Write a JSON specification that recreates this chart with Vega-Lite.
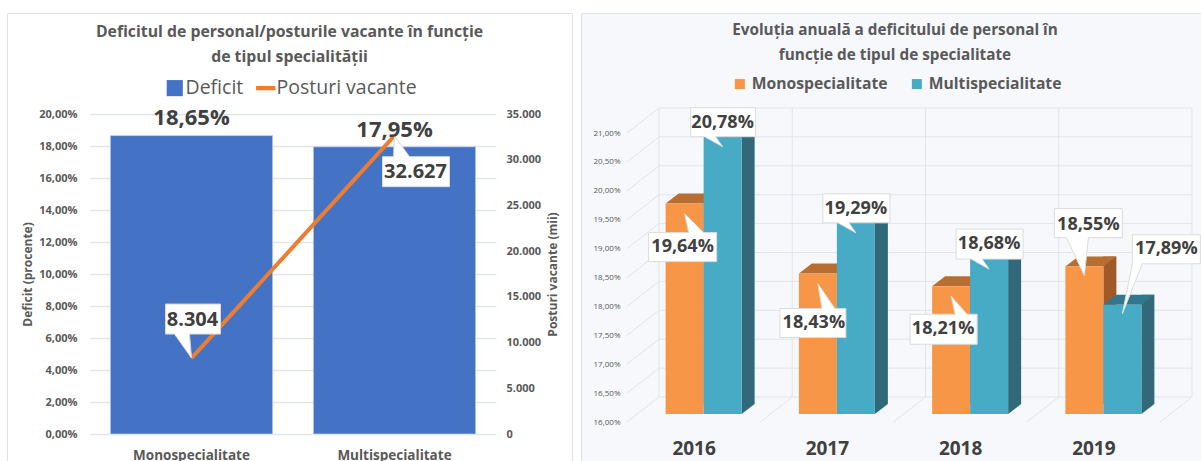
{
"$schema":"https://vega.github.io/schema/vega-lite/v6.json",
"background":"white",
"padding":{"left":6,"top":12,"right":0,"bottom":0},
"spacing":7,
"resolve":{"scale":{"color":"independent","shape":"independent"},"legend":{"color":"independent","shape":"independent"}},
"config":{"view":{"fill":"#f6f8fc","stroke":"#dfe2e8"},"font":"Open Sans"},
"datasets":{
"left":[{"cat":"Monospecialitate","deficit":18.65,"deficitLabel":"18,65%","vacant":8304,"vacantLabel":"8.304"},{"cat":"Multispecialitate","deficit":17.95,"deficitLabel":"17,95%","vacant":32627,"vacantLabel":"32.627"}],
"leftLegend":[{"series":"Deficit"},{"series":"Posturi vacante"}],
"right":[
{"year":2016,"series":"Monospecialitate","value":19.64,"label":"19,64%"},{"year":2016,"series":"Multispecialitate","value":20.78,"label":"20,78%"},
{"year":2017,"series":"Monospecialitate","value":18.43,"label":"18,43%"},{"year":2017,"series":"Multispecialitate","value":19.29,"label":"19,29%"},
{"year":2018,"series":"Monospecialitate","value":18.21,"label":"18,21%"},{"year":2018,"series":"Multispecialitate","value":18.68,"label":"18,68%"},
{"year":2019,"series":"Monospecialitate","value":18.55,"label":"18,55%"},{"year":2019,"series":"Multispecialitate","value":17.89,"label":"17,89%"}],
"ticks":[{"v":16},{"v":16.5},{"v":17},{"v":17.5},{"v":18},{"v":18.5},{"v":19},{"v":19.5},{"v":20},{"v":20.5},{"v":21}],
"edges":[{"e":2015.5},{"e":2016.5},{"e":2017.5},{"e":2018.5},{"e":2019.5}]
},
"hconcat":[
{"width":565,"height":448,
"title":{"text":["Deficitul de personal/posturile vacante în funcție","de tipul specialității"],"anchor":"middle","frame":"group","offset":-53,"fontSize":15.8,"fontWeight":"bold","color":"#595959","lineHeight":25},
"resolve":{"scale":{"y":"independent"}},
"layer":[
{"data":{"name":"left"},
"encoding":{"x":{"field":"cat","type":"nominal","sort":null,"scale":{"range":[83,489],"paddingInner":0.2,"paddingOuter":0.1},"axis":{"title":null,"domain":false,"ticks":false,"labelAngle":0,"labelFontSize":13.5,"labelFontWeight":"bold","labelColor":"#595959","offset":-13,"labelPadding":0}},
"y":{"type":"quantitative","field":"deficit","scale":{"domain":[0,20],"range":[421,101],"nice":false},"axis":{"title":"Deficit (procente)","orient":"left","offset":-70,"values":[0,2,4,6,8,10,12,14,16,18,20],"labelExpr":"replace(format(datum.value,'.2f'),'.',',')+'%'","domain":false,"ticks":false,"labelPadding":0,"labelFontSize":11,"labelFontWeight":"bold","labelColor":"#595959","titleFontSize":12,"titleFontWeight":"bold","titleColor":"#595959","titlePadding":4,"grid":true,"gridColor":"#e2e5ec","gridWidth":1.3}}},
"layer":[
{"mark":{"type":"bar","fill":"#4472c4","stroke":"#dbe4f4","strokeWidth":0.6}},
{"mark":{"type":"text","dy":-18,"fontSize":22,"fontWeight":"bold","fill":"#404040"},"encoding":{"text":{"field":"deficitLabel"},"y":{"field":"deficit","type":"quantitative"}},"transform":[{"filter":"datum.cat=='Monospecialitate'"}]}
]},
{"data":{"name":"left"},
"encoding":{"x":{"field":"cat","type":"nominal","sort":null},
"y":{"type":"quantitative","field":"vacant","scale":{"domain":[0,35000],"range":[421,101],"nice":false},"axis":{"title":"Posturi vacante (mii)","orient":"right","offset":-66,"values":[0,5000,10000,15000,20000,25000,30000,35000],"labelExpr":"replace(format(datum.value,','),',','.')","domain":false,"ticks":false,"labelPadding":0,"labelFontSize":11,"labelFontWeight":"bold","labelColor":"#595959","titleFontSize":12,"titleFontWeight":"bold","titleColor":"#595959","titleAngle":270,"titlePadding":19,"grid":false}}},
"layer":[
{"mark":{"type":"line","stroke":"#ed7d31","strokeWidth":4}},
{"transform":[{"filter":"datum.cat=='Monospecialitate'"}],"mark":{"type":"point","filled":true,"opacity":1,"fill":"white","stroke":"#d9d9d9","strokeWidth":1,"size":4,"shape":"M-26 -54 H29 V-24 H-2 L0 0 L-17 -24 H-26 Z"}},
{"transform":[{"filter":"datum.cat=='Multispecialitate'"}],"mark":{"type":"point","filled":true,"opacity":1,"fill":"white","stroke":"#d9d9d9","strokeWidth":1,"size":4,"shape":"M0 0 L15 21 H55 V51 H-12 V21 H-1 Z"}},
{"mark":{"type":"text","dx":1,"dy":-38,"fontSize":20,"fontWeight":"bold","fill":"#404040"},"encoding":{"text":{"field":"vacantLabel"}},"transform":[{"filter":"datum.cat=='Monospecialitate'"}]},
{"mark":{"type":"text","dx":21,"dy":36,"fontSize":20,"fontWeight":"bold","fill":"#404040"},"encoding":{"text":{"field":"vacantLabel"}},"transform":[{"filter":"datum.cat=='Multispecialitate'"}]},
{"mark":{"type":"text","dy":-6,"fontSize":22,"fontWeight":"bold","fill":"#404040"},"encoding":{"text":{"field":"deficitLabel"}},"transform":[{"filter":"datum.cat=='Multispecialitate'"}]}
]},
{"data":{"name":"leftLegend"},"mark":{"type":"point","filled":true,"opacity":0},
"encoding":{
"color":{"field":"series","type":"nominal","scale":{"domain":["Deficit","Posturi vacante"],"range":["#4472c4","#ed7d31"]},"legend":{"title":null,"orient":"none","legendX":158,"legendY":65,"direction":"horizontal","symbolOpacity":1,"symbolStrokeWidth":0,"symbolSize":260,"labelFontSize":19.5,"labelColor":"#595959","columnPadding":12,"labelOffset":1}},
"shape":{"field":"series","type":"nominal","scale":{"domain":["Deficit","Posturi vacante"],"range":["square","M-1.2 -0.27 H1.2 V0.27 H-1.2 Z"]},"legend":{"title":null,"orient":"none","legendX":158,"legendY":65,"direction":"horizontal","symbolOpacity":1,"symbolStrokeWidth":0,"symbolSize":260,"labelFontSize":19.5,"labelColor":"#595959","columnPadding":12,"labelOffset":1}}}}
]},
{"width":620,"height":448,
"title":{"text":["Evoluția anuală a deficitului de personal în","funcție de tipul de specialitate"],"anchor":"middle","frame":"group","offset":-50,"dx":4,"fontSize":15.3,"fontWeight":"bold","color":"#595959","lineHeight":25},
"layer":[
{"data":{"name":"ticks"},"mark":{"type":"rule","stroke":"#e2e5ec","strokeWidth":1,"xOffset":22,"x2Offset":22,"yOffset":-17},
"encoding":{"y":{"field":"v","type":"quantitative","scale":{"domain":[16,21],"range":[401,112],"nice":false},"axis":{"title":null,"orient":"left","offset":-39,"values":[16,16.5,17,17.5,18,18.5,19,19.5,20,20.5,21],"labelExpr":"replace(format(datum.value,'.2f'),'.',',')+'%'","labelOffset":8,"domain":false,"ticks":false,"grid":false,"labelPadding":0,"labelFontSize":8,"labelColor":"#595959"}},
"x":{"datum":2015.5,"type":"quantitative","scale":{"domain":[2015.5,2019.5],"range":[56,589],"nice":false,"zero":false,"padding":0},"axis":{"title":null,"values":[2016,2017,2018,2019],"format":"d","labelOffset":-10,"domain":false,"ticks":false,"grid":false,"offset":-22,"labelPadding":0,"labelFontSize":19,"labelFontWeight":"bold","labelColor":"#404040","labelFlush":false}},
"x2":{"datum":2019.5}}},
{"data":{"name":"ticks"},"mark":{"type":"rule","stroke":"#e2e5ec","strokeWidth":1,"xOffset":-10,"x2Offset":22,"yOffset":8,"y2Offset":-17},
"encoding":{"y":{"field":"v","type":"quantitative"},"y2":{"field":"v"},"x":{"datum":2015.5,"type":"quantitative"},"x2":{"datum":2015.5}}},
{"data":{"name":"edges"},"mark":{"type":"rule","stroke":"#e2e5ec","strokeWidth":1,"xOffset":22,"x2Offset":22,"yOffset":-17,"y2Offset":-17},
"encoding":{"x":{"field":"e","type":"quantitative"},"y":{"datum":16,"type":"quantitative"},"y2":{"datum":21}}},
{"data":{"name":"edges"},"transform":[{"filter":"datum.e>2016"}],"mark":{"type":"rule","stroke":"#e2e5ec","strokeWidth":1,"xOffset":-10,"x2Offset":22,"yOffset":8,"y2Offset":-17},
"encoding":{"x":{"field":"e","type":"quantitative"},"x2":{"field":"e"},"y":{"datum":16,"type":"quantitative"},"y2":{"datum":16}}},
{"data":{"name":"right"},
"encoding":{"x":{"field":"year","type":"quantitative"},"y":{"field":"value","type":"quantitative"}},
"layer":[
{"transform":[{"filter":"datum.series=='Monospecialitate'"}],"mark":{"type":"bar","width":13,"fill":"#a05a28","xOffset":6.5,"yOffset":-10,"y2Offset":-10},"encoding":{"y2":{"datum":16}}},
{"transform":[{"filter":"datum.series=='Monospecialitate'"}],"mark":{"type":"point","filled":true,"opacity":1,"fill":"#b86e30","size":4,"shape":"M-38 0 L-25 -10 L13 -10 L0 0 Z"}},
{"transform":[{"filter":"datum.series=='Multispecialitate'"}],"mark":{"type":"bar","width":13,"fill":"#31697a","xOffset":44.5,"yOffset":-10,"y2Offset":-10},"encoding":{"y2":{"datum":16}}},
{"transform":[{"filter":"datum.series=='Multispecialitate'"}],"mark":{"type":"point","filled":true,"opacity":1,"fill":"#31788c","size":4,"shape":"M0 0 L13 -10 L51 -10 L38 0 Z"}},
{"transform":[{"filter":"datum.series=='Multispecialitate'"}],"mark":{"type":"point","filled":true,"opacity":1,"fill":"#31697a","size":4,"shape":"M38 0 L38 -10 L51 -10 Z"},"encoding":{"y":{"datum":16,"type":"quantitative"}}},
{"transform":[{"filter":"datum.series=='Monospecialitate'"}],"mark":{"type":"bar","width":38,"fill":"#f79646","xOffset":-19},"encoding":{"y2":{"datum":16}}},
{"transform":[{"filter":"datum.series=='Multispecialitate'"}],"mark":{"type":"bar","width":38,"fill":"#48abc6","xOffset":19},"encoding":{"y2":{"datum":16}}},
{"transform":[{"filter":"datum.series=='Monospecialitate'"}],"mark":{"type":"point","filled":true,"opacity":1,"fill":"white","stroke":"#dcdcdc","strokeWidth":1,"size":4,"xOffset":-19},
"encoding":{"shape":{"field":"label","type":"nominal","legend":null,"scale":{"domain":["19,64%","18,43%","18,21%","18,55%","20,78%","19,29%","18,68%","17,89%"],"range":["M0 10 L19 29 H32 V58 H-36 V29 H4 Z","M0 10 L17 35 H28 V64 H-38 V35 H4 Z","M0 10 L16 28 H26 V58 H-41 V28 H4 Z","M0 9 L4 -29 H38 V-58 H-30 V-29 H-18 Z","M-32 -30 H33 V-1 H-7 L0 9 L-18 -1 H-32 Z","M-33 -30 H34 V-1 H-7 L0 9 L-18 -1 H-33 Z","M-33 -30 H34 V0 H-7 L0 10 L-18 0 H-33 Z","M0 9 L20 -41 H78 V-70 H10 V-41 Z"]}}}},
{"transform":[{"filter":"datum.series=='Multispecialitate'"}],"mark":{"type":"point","filled":true,"opacity":1,"fill":"white","stroke":"#dcdcdc","strokeWidth":1,"size":4,"xOffset":19},
"encoding":{"shape":{"field":"label","type":"nominal","legend":null}}},
{"transform":[{"filter":"datum.label=='19,64%'"}],"mark":{"type":"text","xOffset":-19,"dx":-2,"dy":43,"fontSize":18,"fontWeight":"bold","fill":"#404040"},"encoding":{"text":{"field":"label"}}},
{"transform":[{"filter":"datum.label=='18,43%'"}],"mark":{"type":"text","xOffset":-19,"dx":-4,"dy":49,"fontSize":18,"fontWeight":"bold","fill":"#404040"},"encoding":{"text":{"field":"label"}}},
{"transform":[{"filter":"datum.label=='18,21%'"}],"mark":{"type":"text","xOffset":-19,"dx":-8,"dy":43,"fontSize":18,"fontWeight":"bold","fill":"#404040"},"encoding":{"text":{"field":"label"}}},
{"transform":[{"filter":"datum.label=='18,55%'"}],"mark":{"type":"text","xOffset":-19,"dx":4,"dy":-42,"fontSize":18,"fontWeight":"bold","fill":"#404040"},"encoding":{"text":{"field":"label"}}},
{"transform":[{"filter":"datum.label=='17,89%'"}],"mark":{"type":"text","xOffset":19,"dx":44,"dy":-56,"fontSize":18,"fontWeight":"bold","fill":"#404040"},"encoding":{"text":{"field":"label"}}},
{"transform":[{"filter":"datum.year<2019 && datum.series=='Multispecialitate'"}],"mark":{"type":"text","xOffset":19,"dy":-15,"fontSize":18,"fontWeight":"bold","fill":"#404040"},"encoding":{"text":{"field":"label"}}},
{"mark":{"type":"point","filled":true,"opacity":0},"encoding":{"color":{"field":"series","type":"nominal","scale":{"domain":["Monospecialitate","Multispecialitate"],"range":["#f79646","#48abc6"]},"legend":{"title":null,"orient":"none","legendX":151,"legendY":63,"direction":"horizontal","symbolType":"square","symbolOpacity":1,"symbolSize":100,"labelFontSize":15.7,"labelFontWeight":"bold","labelColor":"#595959","columnPadding":21}}}}
]}
]}
]
}
